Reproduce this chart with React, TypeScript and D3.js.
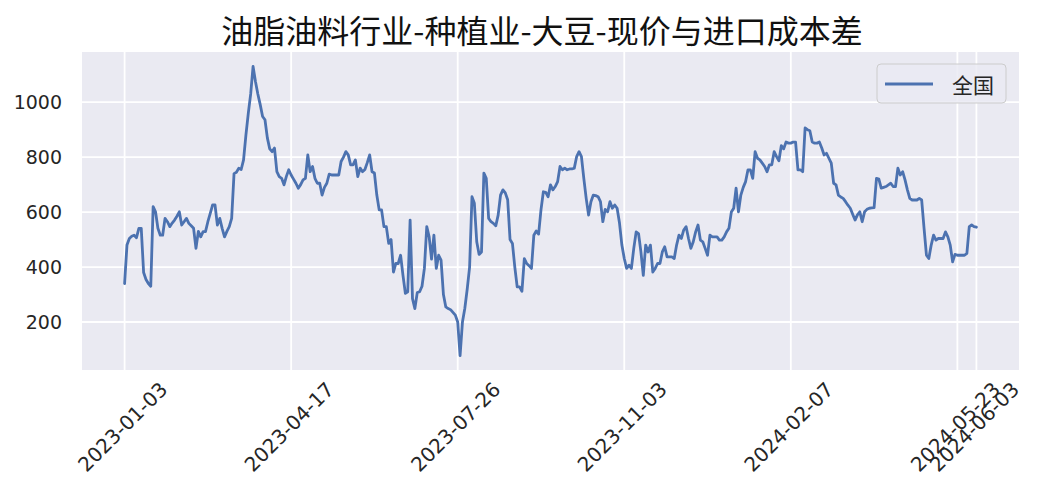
import React from "react";
import * as d3 from "d3";

const title = "油脂油料行业-种植业-大豆-现价与进口成本差";
const seriesName = "全国";

// One value per trading day, starting 2023-01-03 and ending 2024-06-03
const values: number[] = [
  340, 480, 504, 512, 516, 507, 541, 541, 380, 355,
  340, 330, 620, 601, 541, 516, 516, 577, 565, 547,
  560, 571, 585, 601, 553, 565, 577, 559, 550, 541,
  468, 530, 510, 529, 529, 565, 595, 626, 626, 553,
  577, 541, 510, 530, 547, 577, 740, 745, 760, 755,
  790, 881, 960, 1030, 1130, 1075, 1030, 991, 948, 936,
  870, 830, 820, 833, 747, 729, 723, 699, 730, 754,
  735, 720, 705, 687, 700, 717, 723, 808, 747, 766,
  723, 705, 705, 662, 690, 705, 738, 735, 735, 735,
  735, 784, 800, 820, 808, 772, 772, 790, 729, 760,
  747, 755, 780, 808, 747, 742, 662, 608, 608, 547,
  547, 486, 500, 382, 413, 413, 443, 370, 304, 310,
  571, 285, 249, 307, 310, 330, 395, 547, 510, 429,
  516, 395, 443, 425, 300, 255, 249, 245, 235, 225,
  200, 78, 200, 250, 320, 400, 656, 632, 492, 446,
  455, 742, 723, 577, 565, 559, 550, 589, 662, 681,
  670, 645, 500, 486, 400, 328, 328, 312, 431, 413,
  405, 395, 516, 531, 520, 608, 674, 672, 656, 699,
  681, 693, 711, 766, 754, 760, 754, 757, 757, 760,
  802, 820, 802, 723, 650, 589, 638, 662, 660, 656,
  638, 565, 610, 601, 638, 614, 626, 614, 560, 480,
  431, 395, 407, 395, 468, 528, 522, 455, 370, 480,
  455, 480, 382, 395, 413, 413, 455, 474, 437, 437,
  437, 431, 480, 516, 504, 535, 547, 504, 468, 492,
  528, 553, 498, 492, 468, 443, 516, 510, 510, 510,
  498, 498, 510, 528, 541, 600, 614, 687, 601, 662,
  690, 711, 754, 754, 723, 820, 796, 790, 778, 766,
  747, 772, 772, 820, 802, 787, 842, 830, 855, 851,
  851, 855, 855, 754, 754, 747, 906, 900, 896, 855,
  851, 851, 855, 833, 808, 814, 796, 778, 705, 699,
  662, 655, 650, 638, 625, 614, 592, 571, 590, 601,
  565, 601, 610, 614, 615, 616, 723, 720, 687, 690,
  693, 699, 705, 693, 693, 760, 735, 747, 717, 681,
  650, 644, 644, 644, 650, 644, 541, 443, 431, 480,
  516, 498, 504, 504, 504, 528, 510, 480, 419, 446,
  443, 443, 443, 443, 450, 547, 553, 547, 545,
];

const xTickLabels = ["2023-01-03", "2023-04-17", "2023-07-26", "2023-11-03", "2024-02-07", "2024-05-23", "2024-06-03"];
const xTickIndex = [0, 70, 140, 210, 280, 350, 358];
const yTicks = [200, 400, 600, 800, 1000];

const W = 1040;
const H = 500;
const M = { left: 82, right: 1019, top: 52, bottom: 370 };

export default function App() {
  const n = values.length - 1;
  const padX = n * 0.05;
  const x = d3.scaleLinear().domain([-padX, n + padX]).range([M.left, M.right]);
  const [lo, hi] = d3.extent(values) as [number, number];
  const padY = (hi - lo) * 0.05;
  const y = d3.scaleLinear().domain([lo - padY, hi + padY]).range([M.bottom, M.top]);
  const line = d3
    .line<number>()
    .x((_, i) => x(i))
    .y((d) => y(d));

  const tickFont = "'DejaVu Sans', sans-serif";
  const cjkFont = "'Noto Sans CJK SC', 'Noto Sans', sans-serif";

  return (
    <svg
      width={W}
      height={H}
      style={{ position: "absolute", left: 0, top: 0, background: "#fff" }}
    >
      <rect x={M.left} y={M.top} width={M.right - M.left} height={M.bottom - M.top} fill="#eaeaf2" />
      {yTicks.map((t) => (
        <line key={"gy" + t} x1={M.left} x2={M.right} y1={y(t)} y2={y(t)} stroke="#fff" strokeWidth={1.8} />
      ))}
      {xTickIndex.map((t) => (
        <line key={"gx" + t} x1={x(t)} x2={x(t)} y1={M.top} y2={M.bottom} stroke="#fff" strokeWidth={1.8} />
      ))}
      <path d={line(values) || ""} fill="none" stroke="#4c72b0" strokeWidth={2.8} strokeLinejoin="round" strokeLinecap="round" />
      {yTicks.map((t) => (
        <text key={"ty" + t} x={M.left - 20} y={y(t)} textAnchor="end" dominantBaseline="central" fontFamily={tickFont} fontSize={19} fill="#262626">
          {t}
        </text>
      ))}
      {xTickIndex.map((t, i) => (
        <text
          key={"tx" + t}
          transform={`translate(${x(t) - 2},${427}) rotate(-45)`}
          textAnchor="middle"
          dominantBaseline="central"
          fontFamily={tickFont}
          fontSize={20}
          fill="#262626"
        >
          {xTickLabels[i]}
        </text>
      ))}
      <text x={542} y={29} textAnchor="middle" dominantBaseline="central" fontFamily={cjkFont} fontSize={32} fill="#111">
        {title}
      </text>
      <g>
        <rect x={877} y={64} width={129} height={39} rx={4} fill="#eaeaf2" fillOpacity={0.8} stroke="#cccccc" strokeWidth={1} />
        <line x1={885} x2={933} y1={84} y2={84} stroke="#4c72b0" strokeWidth={2.8} />
        <text x={952} y={84} dominantBaseline="central" fontFamily={cjkFont} fontSize={21} fill="#262626">
          {seriesName}
        </text>
      </g>
    </svg>
  );
}
